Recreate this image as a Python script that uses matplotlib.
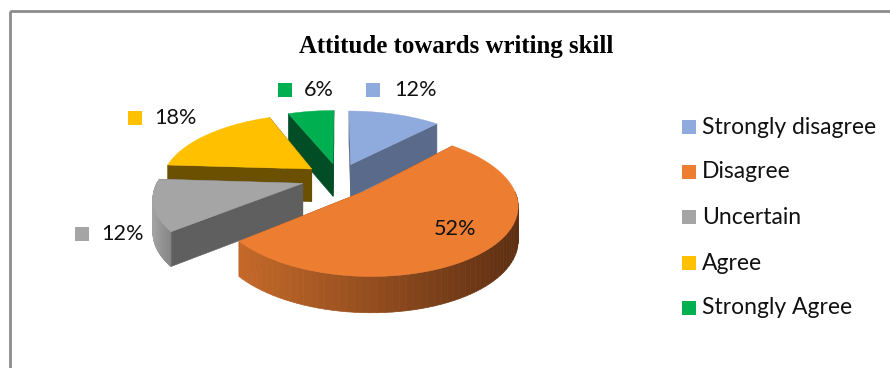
#!/usr/bin/env python3
import numpy as np
import matplotlib
matplotlib.use("Agg")
import matplotlib.pyplot as plt
from matplotlib.collections import PolyCollection
from matplotlib.colors import to_rgb
from matplotlib.patches import Rectangle

# Survey results
categories = ["Strongly disagree", "Disagree", "Uncertain", "Agree", "Strongly Agree"]
percentages = [12, 52, 12, 18, 6]
title = "Attitude towards writing skill"

# Styling for each slice: top face, cut wall, rim gradient (left, right)
top_colors = ["#8FAADC", "#ED7D31", "#A5A5A5", "#FFC000", "#00B050"]
wall_colors = ["#5A6A8A", "#94501E", "#5F5F5F", "#6A5000", "#004D26"]
rim_left = ["#5A6A8A", "#C66A2A", "#A3A3A3", "#6A5000", "#004D26"]
rim_right = ["#5A6A8A", "#5E2F12", "#858585", "#6A5000", "#004D26"]
explode = [0.22, 0.25, 0.25, 0.23, 0.22]
radius_scale = [1.0, 0.96, 0.96, 1.0, 1.0]
draw_order = [0, 4, 3, 2, 1]

# Pie geometry in pixels, with a simple perspective towards the viewer
CX, CY = 339, 178
RX, RY = 150, 68
PERSP = 0.185
DEPTH = 33

# Where the value labels sit (key square left edge, text left edge, centre y)
label_spots = [(366, 394, 90), (408, 434, 229), (75, 101, 234), (128, 154, 118), (278, 304, 90)]
legend_ys = [127, 172, 217, 263, 308]


def project(x, y, drop=False):
    w = 1 + PERSP * y
    sx = CX + RX * x / w
    sy = CY - RY * y / w
    if drop:
        sy = sy + DEPTH / w ** 0.4
    return sx, sy


def rim_points(a0, a1, ox, oy, r, n=80):
    ang = np.radians(np.linspace(a0, a1, n))
    return ox + r * np.sin(ang), oy + r * np.cos(ang), ang


def wall(ox, oy, r, ang_deg):
    a = np.radians(ang_deg)
    xs = np.array([ox, ox + r * np.sin(a)])
    ys = np.array([oy, oy + r * np.cos(a)])
    tx, ty = project(xs, ys)
    bx, by = project(xs, ys, drop=True)
    return np.column_stack([np.r_[tx, bx[::-1]], np.r_[ty, by[::-1]]]), ys.mean()


def draw_slice(ax, i, a0, a1, z):
    mid = np.radians((a0 + a1) / 2)
    ox = explode[i] * np.sin(mid)
    oy = explode[i] * np.cos(mid)
    r = radius_scale[i]

    # cut walls, the one further back first
    walls = sorted([wall(ox, oy, r, a0), wall(ox, oy, r, a1)], key=lambda w: -w[1])
    for poly, _ in walls:
        ax.fill(poly[:, 0], poly[:, 1], color=wall_colors[i], lw=0.4, zorder=z)

    # outer rim, split into strips so the shading can run across it
    xs, ys, ang = rim_points(a0, a1, ox, oy, r)
    tx, ty = project(xs, ys)
    bx, by = project(xs, ys, drop=True)
    quads, shades = [], []
    left, right = np.array(to_rgb(rim_left[i])), np.array(to_rgb(rim_right[i]))
    facing = np.where(np.cos(ang) < 0.03)[0]
    if len(facing) > 1:
        x0, x1 = tx[facing].min(), tx[facing].max()
        for k in facing[:-1]:
            quads.append([(tx[k], ty[k]), (tx[k + 1], ty[k + 1]), (bx[k + 1], by[k + 1]), (bx[k], by[k])])
            t = (tx[k] - x0) / max(x1 - x0, 1)
            shades.append(left + (right - left) * t)
        ax.add_collection(PolyCollection(quads, facecolors=shades, edgecolors=shades, linewidths=0.5, zorder=z))

    # top face
    fx, fy = project(np.r_[ox, xs], np.r_[oy, ys])
    ax.fill(fx, fy, color=top_colors[i], lw=0.3, zorder=z)


fig = plt.figure(figsize=(8.9, 3.68), dpi=100)
ax = fig.add_axes([0, 0, 1, 1])
ax.set_xlim(0, 890)
ax.set_ylim(368, 0)
ax.axis("off")

# chart frame runs off the right and bottom edges
ax.add_patch(Rectangle((9.5, 11), 900, 400, fill=False, ec="#8C8C8C", lw=2, zorder=1))

ax.text(456, 46, title, family="Liberation Serif", weight="bold", fontsize=17.9,
        ha="center", va="center", color="black")

# slices run clockwise from twelve o'clock, painted back to front
angles = np.r_[0, np.cumsum(percentages)] / sum(percentages) * 360
for z, i in enumerate(draw_order):
    draw_slice(ax, i, angles[i], angles[i + 1], 2 + z)

for i, (kx, tx, y) in enumerate(label_spots):
    ax.add_patch(Rectangle((kx, y - 7), 14, 14, color=top_colors[i], lw=0, zorder=10))
    ax.text(tx, y, f"{percentages[i]}%", family="Lato", fontsize=15.6, ha="left", va="center",
            color="#111111", zorder=11)

for i, name in enumerate(categories):
    y = legend_ys[i]
    ax.add_patch(Rectangle((682, y - 7), 14, 14, color=top_colors[i], lw=0, zorder=10))
    ax.text(702, y, name, family="Lato", fontsize=16.5, ha="left", va="center", color="#111111", zorder=11)

fig.savefig("out.png", dpi=100)
